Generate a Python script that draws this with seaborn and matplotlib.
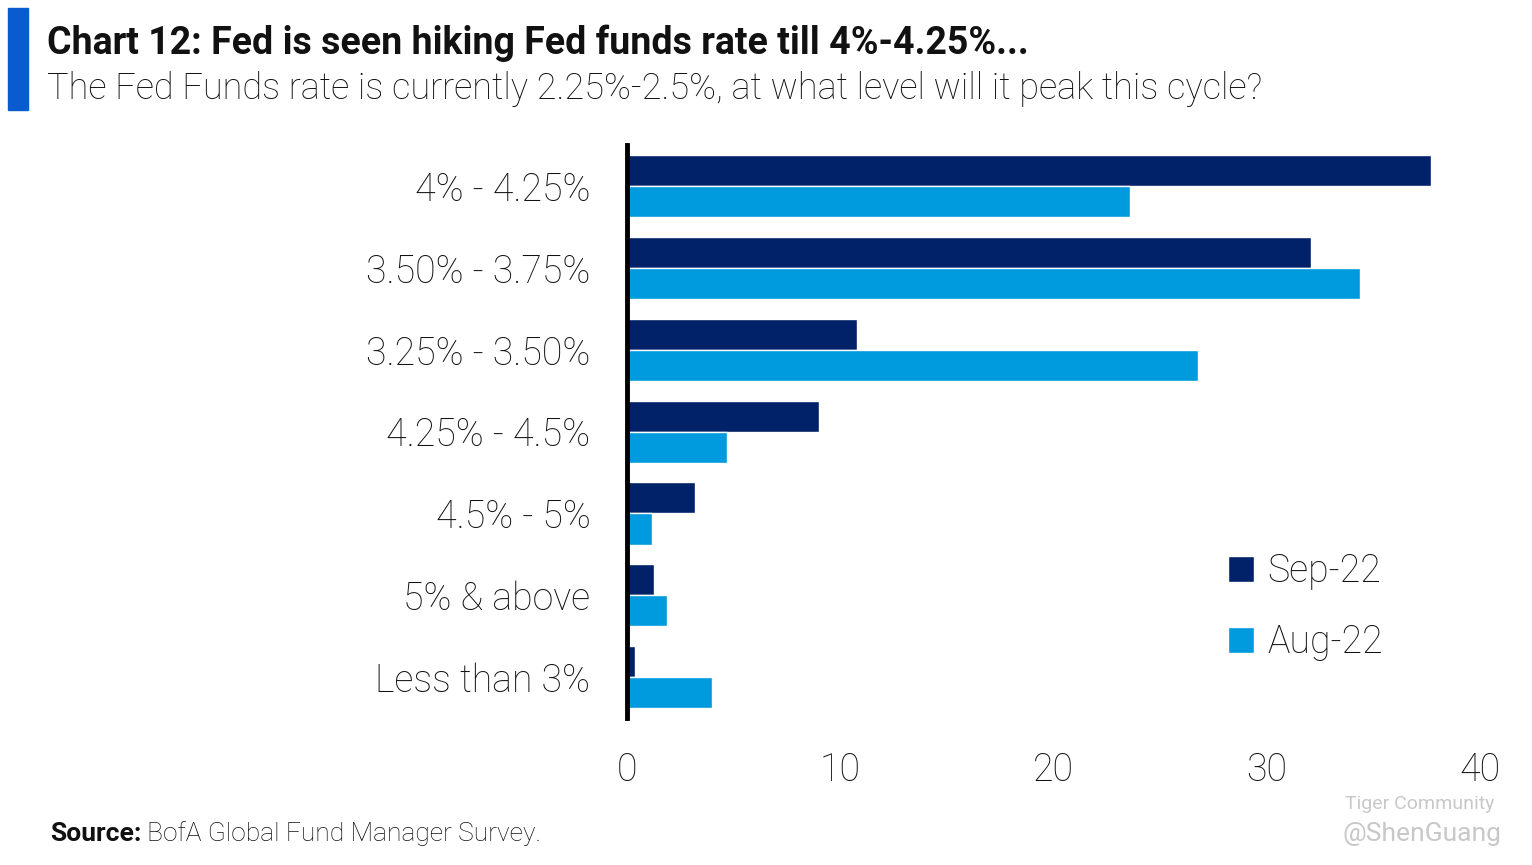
import matplotlib
matplotlib.use("Agg")
import matplotlib.pyplot as plt
import seaborn as sns
import pandas as pd
from matplotlib.patches import Rectangle

categories = ["4% - 4.25%", "3.50% - 3.75%", "3.25% - 3.50%", "4.25% - 4.5%",
              "4.5% - 5%", "5% & above", "Less than 3%"]
sep22 = [37.7, 32.1, 10.8, 9.0, 3.2, 1.3, 0.4]
aug22 = [23.6, 34.4, 26.8, 4.7, 1.2, 1.9, 4.0]
series_names = ["Sep-22", "Aug-22"]
xticks = [0, 10, 20, 30, 40]

df = pd.DataFrame({
    "category": categories * 2,
    "value": sep22 + aug22,
    "series": [series_names[0]] * len(categories) + [series_names[1]] * len(categories),
})

sns.set_theme(style="white")
FONT = ["Roboto", "DejaVu Sans"]
plt.rcParams["font.family"] = FONT

fig = plt.figure(figsize=(15.32, 8.65), dpi=100)
ax = fig.add_axes([0.409, 0.170, 0.557, 0.662])

palette = {"Sep-22": "#012169", "Aug-22": "#009ADE"}
sns.barplot(data=df, y="category", x="value", hue="series", order=categories,
            hue_order=series_names, palette=palette, orient="h", width=0.76,
            saturation=1, ax=ax, legend=True)

ax.set_xlim(0, 40)
ax.set_ylim(6.5, -0.5)
ax.set_xticks(xticks)
ax.set_xticklabels([str(t) for t in xticks])
ax.set_xlabel("")
ax.set_ylabel("")
ax.tick_params(axis="x", labelsize=27, length=0, pad=24, colors="#111111")
ax.tick_params(axis="y", labelsize=27, length=0, pad=26, colors="#111111")
for lab in ax.get_yticklabels() + ax.get_xticklabels():
    lab.set_fontweight("light")
for s in ["top", "right", "bottom"]:
    ax.spines[s].set_visible(False)
ax.spines["left"].set_color("black")
ax.spines["left"].set_linewidth(3.5)
ax.grid(False)

leg = ax.legend(loc="lower left", bbox_to_anchor=(0.665, 0.04), frameon=False,
                fontsize=27, handlelength=0.7, handleheight=0.7, handletextpad=0.35,
                labelspacing=0.9)
for t in leg.get_texts():
    t.set_color("#111111")
    t.set_fontweight("light")

# title block
fig.patches.append(Rectangle((0.005, 0.873), 0.013, 0.118, transform=fig.transFigure,
                             color="#0A5BD0", zorder=5))
fig.text(0.031, 0.950, "Chart 12: Fed is seen hiking Fed funds rate till 4%-4.25%...",
         fontsize=27, fontweight="bold", color="#111111", va="center", ha="left")
fig.text(0.031, 0.897, "The Fed Funds rate is currently 2.25%-2.5%, at what level will it peak this cycle?",
         fontsize=26, fontweight="light", color="#111111", va="center", ha="left")

fig.text(0.033, 0.036, "Source:", fontsize=19, fontweight="bold", color="#111111",
         va="center", ha="left")
fig.text(0.096, 0.036, "BofA Global Fund Manager Survey.", fontsize=19, fontweight="light",
         color="#111111", va="center", ha="left")

# watermark
fig.text(0.878, 0.071, "Tiger Community", fontsize=14, color="#C8C8C8", va="center", ha="left")
fig.text(0.980, 0.036, "@ShenGuang", fontsize=19, color="#C8C8C8", va="center", ha="right")

fig.savefig("out.png", dpi=100)
